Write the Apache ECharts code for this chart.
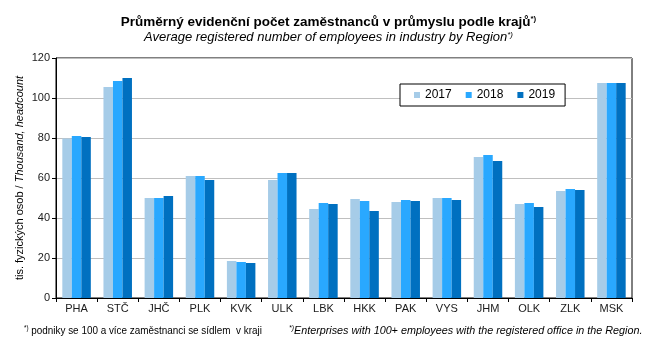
<!DOCTYPE html>
<html>
<head>
<meta charset="utf-8">
<script src="https://cdn.jsdelivr.net/npm/echarts@6/dist/echarts.min.js"></script>
<style>
  html, body { margin: 0; padding: 0; background: #fff; }
  #chart { width: 657px; height: 350px; }
</style>
</head>
<body>
<div id="chart"></div>
<script>
// kraje
const regions = ["PHA", "STČ", "JHČ", "PLK", "KVK", "ULK", "LBK", "HKK", "PAK", "VYS", "JHM", "OLK", "ZLK", "MSK"];
const years = ["2017", "2018", "2019"];
// tis. osob
const y2017 = [79.8, 105.5, 50, 61, 18.5, 59, 44.5, 49.5, 48, 50, 70.5, 47, 53.5, 107.5];
const y2018 = [81, 108.5, 50, 61, 18, 62.5, 47.5, 48.5, 49, 50, 71.5, 47.5, 54.5, 107.5];
const y2019 = [80.5, 110, 51, 59, 17.5, 62.5, 47, 43.5, 48.5, 49, 68.5, 45.5, 54, 107.5];
const yTicks = [0, 20, 40, 60, 80, 100, 120];

const colors = ["#a6cce8", "#29a8ff", "#0070c0"];
const font = "Arial, 'Liberation Sans', sans-serif";

let chart = echarts.init(document.getElementById("chart"));
chart.setOption({
  animation: false,
  textStyle: { fontFamily: font },
  title: {
    left: "center",
    top: 10,
    itemGap: 2,
    text: "Průměrný evidenční počet zaměstnanců v průmyslu podle krajů{s|*)}",
    textStyle: {
      fontSize: 13.5,
      fontWeight: "bold",
      color: "#000",
      rich: { s: { fontSize: 8, fontWeight: "bold", verticalAlign: "top", color: "#000" } }
    },
    subtext: "Average registered number of employees in industry by Region{s|*)}",
    subtextStyle: {
      fontSize: 13,
      fontStyle: "italic",
      color: "#000",
      rich: { s: { fontSize: 8, fontStyle: "italic", verticalAlign: "top", color: "#000" } }
    }
  },
  legend: {
    data: years,
    left: 400,
    top: 84,
    padding: [5, 10, 5, 14],
    itemWidth: 6,
    itemHeight: 6,
    itemGap: 14,
    icon: "rect",
    backgroundColor: "#fff",
    borderColor: "#000",
    borderWidth: 1,
    borderRadius: 0,
    textStyle: { fontSize: 12, color: "#000" }
  },
  grid: {
    left: 56,
    right: 25,
    top: 58,
    bottom: 52,
    show: true,
    borderColor: "#000",
    borderWidth: 1
  },
  xAxis: {
    type: "category",
    data: regions,
    axisLine: { lineStyle: { color: "#000" } },
    axisTick: { show: true, length: 4, lineStyle: { color: "#000" } },
    axisLabel: { fontSize: 11, color: "#1a1a1a", margin: 5 }
  },
  yAxis: {
    type: "value",
    min: 0,
    max: 120,
    interval: 20,
    name: "tis. fyzických osob / {i|Thousand, headcount}",
    nameLocation: "middle",
    nameGap: 36,
    nameMoveOverlap: false,
    nameTextStyle: {
      fontSize: 11,
      color: "#000",
      verticalAlign: "middle",
      rich: { i: { fontSize: 11, fontStyle: "italic", color: "#000" } }
    },
    axisLine: { show: true, lineStyle: { color: "#000" } },
    axisTick: { show: true, length: 4, lineStyle: { color: "#000" } },
    axisLabel: {
      fontSize: 11,
      color: "#1a1a1a",
      margin: 6,
      formatter: v => (yTicks.includes(v) ? String(v) : "")
    },
    splitLine: { lineStyle: { color: "#bfbfbf", width: 1 } }
  },
  series: [
    { name: years[0], type: "bar", data: y2017, itemStyle: { color: colors[0] }, barWidth: 9.5, barGap: "0%" },
    { name: years[1], type: "bar", data: y2018, itemStyle: { color: colors[1] }, barWidth: 9.5, barGap: "0%" },
    { name: years[2], type: "bar", data: y2019, itemStyle: { color: colors[2] }, barWidth: 9.5, barGap: "0%" }
  ],
  graphic: [
    {
      type: "text",
      x: 24,
      y: 325,
      scaleX: 0.9,
      style: {
        text: "{s|*)} podniky se 100 a více zaměstnanci se sídlem  v kraji",
        fontSize: 11,
        fill: "#000",
        rich: { s: { fontSize: 7, verticalAlign: "top" } }
      }
    },
    {
      type: "text",
      x: 289,
      y: 325,
      scaleX: 0.98,
      style: {
        text: "{s|*)}Enterprises with 100+ employees with the registered office in the Region.",
        fontSize: 11,
        fontStyle: "italic",
        fill: "#000",
        rich: { s: { fontSize: 7, fontStyle: "italic", verticalAlign: "top" } }
      }
    }
  ]
});
</script>
</body>
</html>
